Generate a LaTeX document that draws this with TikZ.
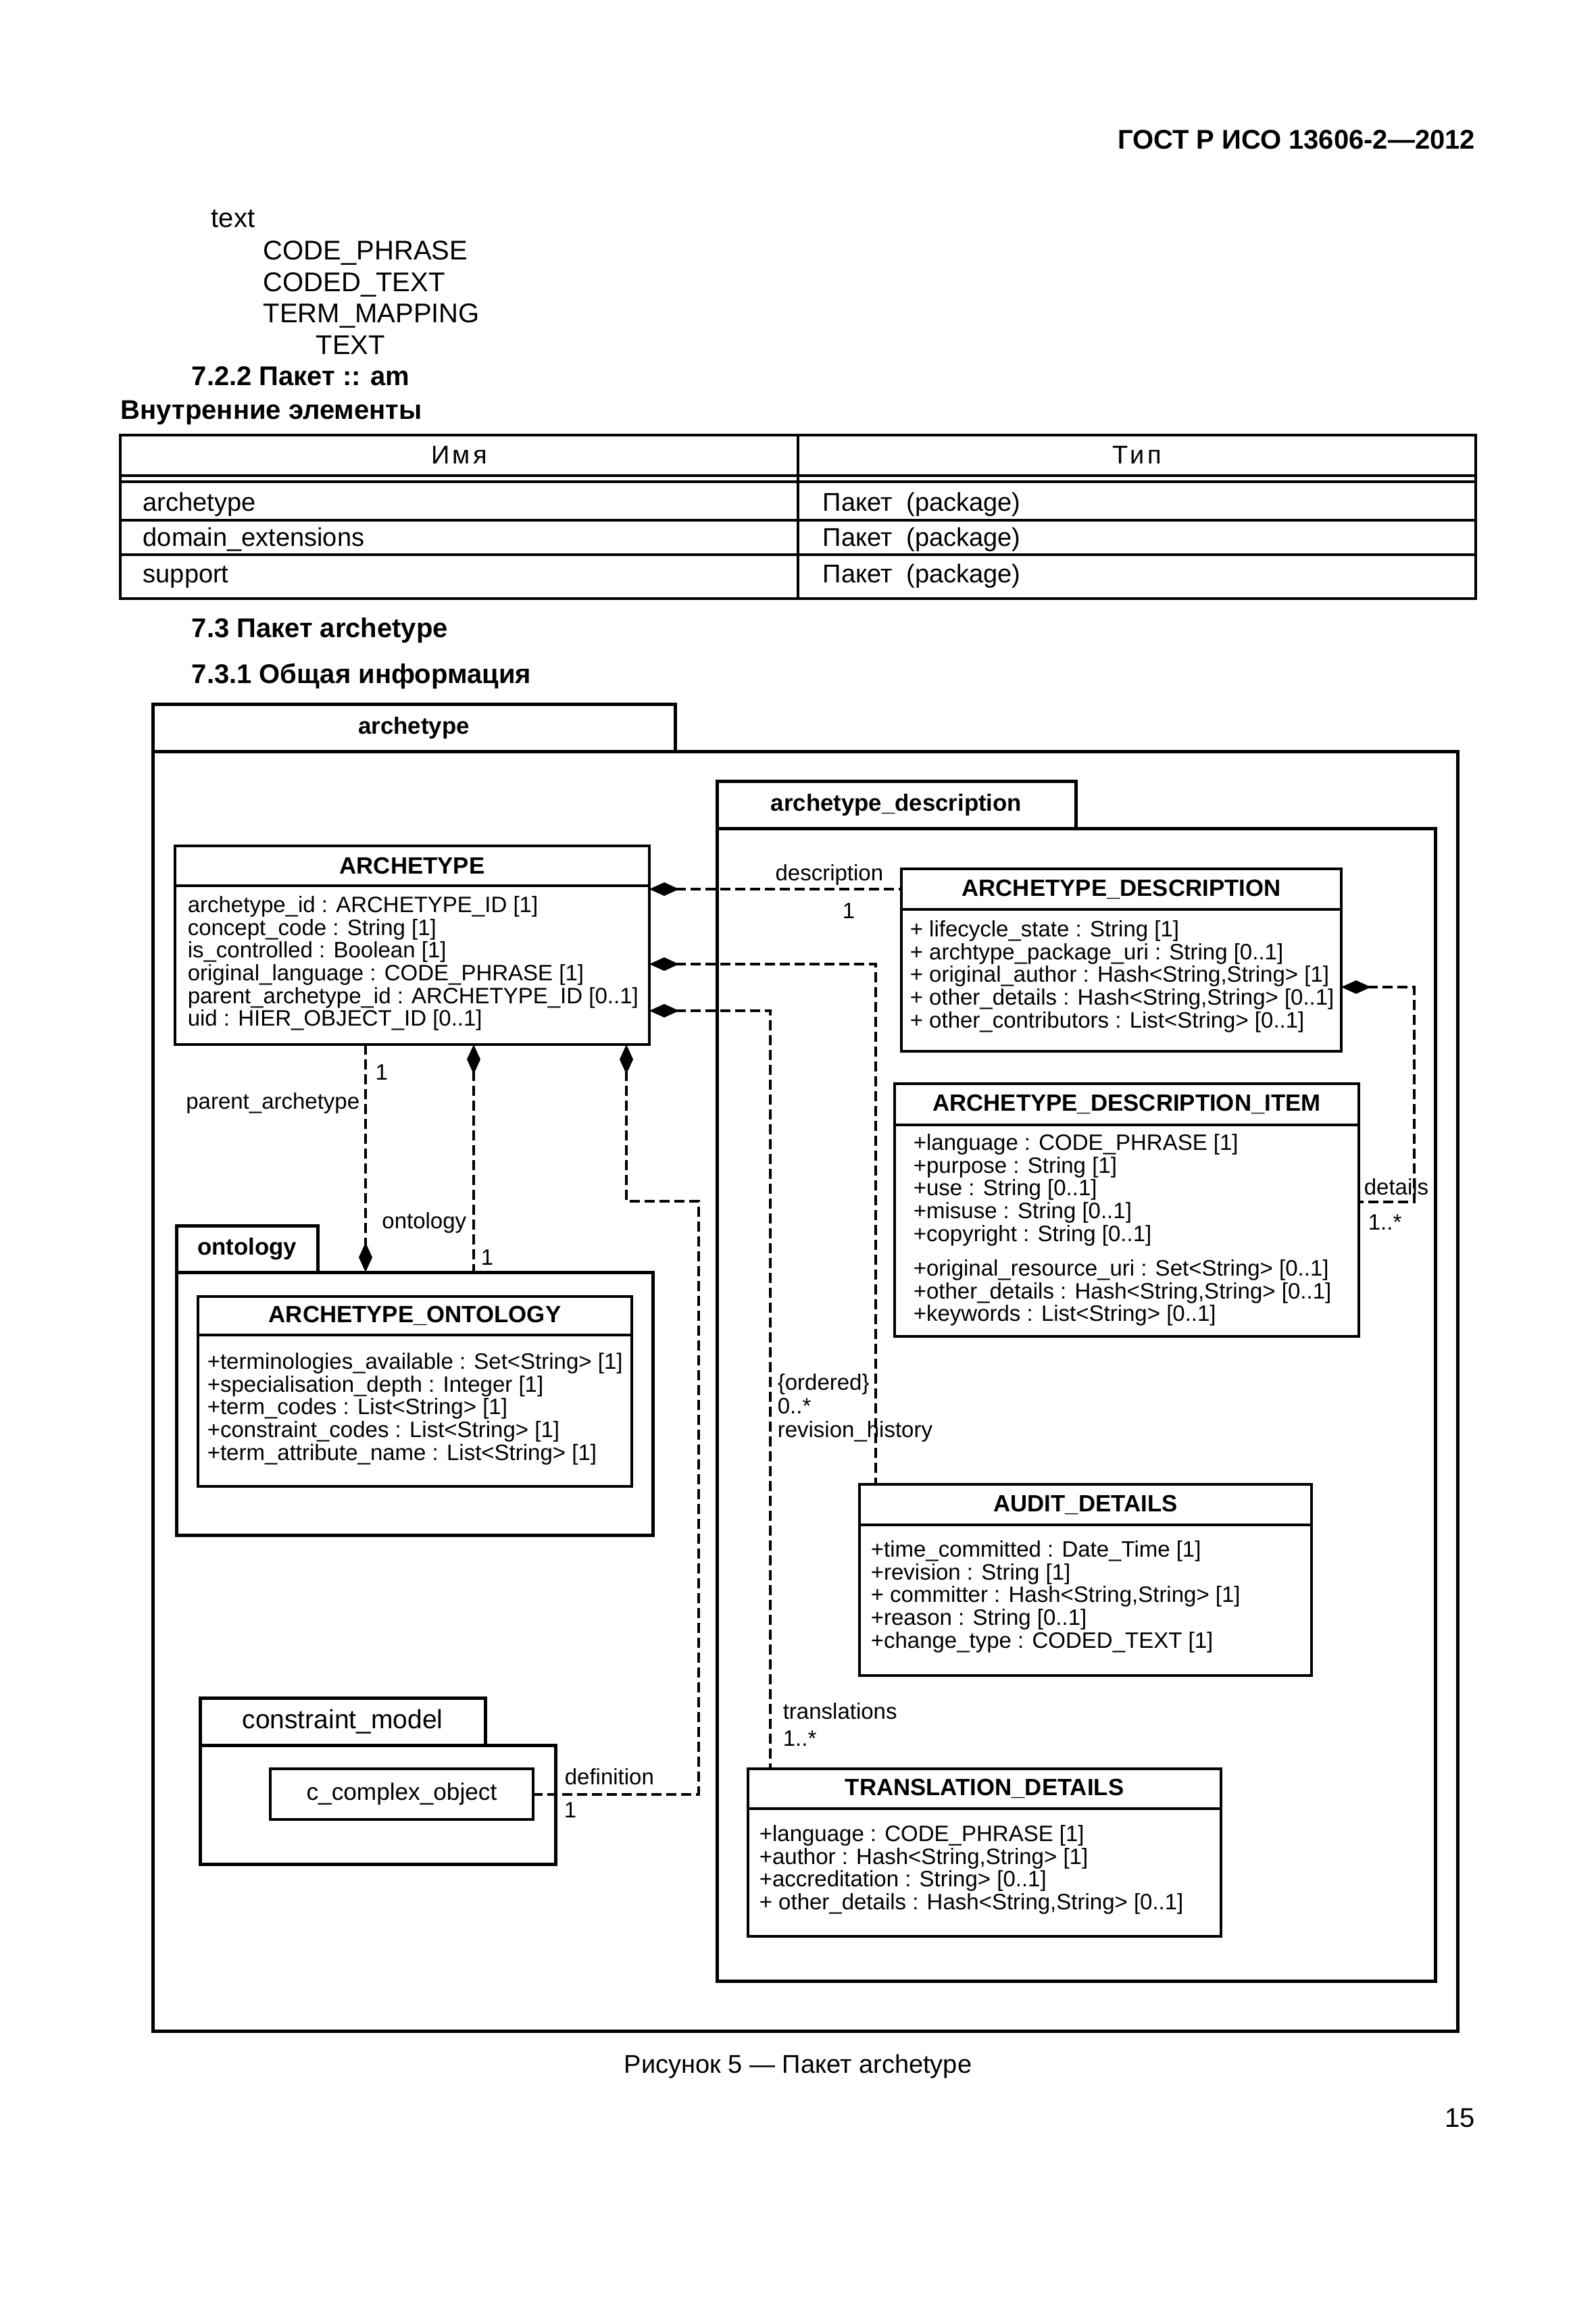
\documentclass[tikz,border=0pt]{standalone}
\usepackage{fontspec}
\setmainfont{Liberation Sans}
\usetikzlibrary{arrows.meta,positioning}

\begin{document}
\begin{tikzpicture}[x=1pt,y=-1pt,
  pagetext/.style={anchor=base west, inner sep=0pt, font=\fontsize{10}{12}\selectfont},
  pagehead/.style={pagetext, font=\bfseries\fontsize{10}{12}\selectfont},
  cell/.style={anchor=base west, inner sep=0pt, font=\fontsize{9.5}{11}\selectfont},
  pkgtab/.style={draw, line width=1.25pt, anchor=north west, inner sep=0pt, outer sep=0pt, font=\bfseries\fontsize{8.7}{10}\selectfont},
  pkgbody/.style={draw, line width=1.25pt, anchor=north west, inner sep=0pt, outer sep=0pt},
  clshead/.style={draw, line width=1.1pt, anchor=north west, inner sep=0pt, outer sep=0pt, font=\bfseries\fontsize{8.7}{10}\selectfont},
  clsbody/.style={draw, line width=1.1pt, anchor=north west, inner sep=0pt, outer sep=0pt},
  attrs/.style={anchor=north west, inner sep=0pt, align=left, font=\fontsize{8.25}{8.4}\selectfont},
  role/.style={inner sep=0pt, font=\fontsize{8.25}{10}\selectfont},
  assoc/.style={line width=1pt, dash pattern=on 3.75pt off 1.75pt},
  composite/.style={assoc, {Diamond[length=11pt,width=5pt]}-},
  partof/.style={assoc, -{Diamond[length=11pt,width=5pt]}}]
\fill[white] (0,0) rectangle (590.5,856.25);
\useasboundingbox (0,0) rectangle (590.5,856.25);

\node[pagehead, anchor=base east] (gost) at (546,55.25) {ГОСТ Р ИСО 13606-2—2012};
\node[pagetext] (t1) at (78,84.25) {text};
\node[pagetext] (t2) at (97.25,96) {CODE\_PHRASE};
\node[pagetext] (t3) at (97.25,107.9) {CODED\_TEXT};
\node[pagetext] (t4) at (97.25,119.3) {TERM\_MAPPING};
\node[pagetext] (t5) at (116.75,131) {TEXT};
\node[pagehead] (h1) at (70.75,142.6) {7.2.2 Пакет :: am};
\node[pagehead] (h2) at (44.5,155.2) {Внутренние элементы};

\draw[line width=0.8pt] (44.5,161) rectangle (546,221.5);
\draw[line width=0.8pt] (44.5,176) -- (546,176) (44.5,178.25) -- (546,178.25)
  (44.5,192.5) -- (546,192.5) (44.5,205.25) -- (546,205.25) (295.25,161) -- (295.25,221.5);
\node[cell, anchor=base] (colname) at (169.9,171.5) {\addfontfeature{LetterSpace=12}Имя};
\node[cell, anchor=base] (coltype) at (420.6,171.5) {\addfontfeature{LetterSpace=12}Тип};
\node[cell] (r1) at (52.75,189) {archetype};
\node[cell] (r2) at (52.75,202.2) {domain\_extensions};
\node[cell] (r3) at (52.75,215.7) {support};
\node[cell] (p1) at (304.25,189) {Пакет \ (package)};
\node[cell] (p2) at (304.25,202.2) {Пакет \ (package)};
\node[cell] (p3) at (304.25,215.7) {Пакет \ (package)};
\node[pagehead] (h3) at (70.75,235.9) {7.3 Пакет archetype};
\node[pagehead] (h4) at (70.75,252.9) {7.3.1 Общая информация};

\node[pkgtab, minimum width=193.25pt, minimum height=17.5pt] (archtab) at (56.5,260.5) {archetype};
\node[pkgbody, minimum width=482.75pt, minimum height=473.5pt] (archpkg) at (archtab.south west) {};
\node[pkgtab, minimum width=132.75pt, minimum height=17.5pt] (desctab) at (265.25,289) {archetype\_description};
\node[pkgbody, minimum width=265.75pt, minimum height=426.5pt] (descpkg) at (desctab.south west) {};

\node[clshead, minimum width=175.5pt, minimum height=14.75pt] (arch) at (64.75,313) {ARCHETYPE};
\node[clsbody, minimum width=175.5pt, minimum height=58.75pt] (archb) at (arch.south west) {};
\node[attrs] (archa) at ([shift={(4.5,3.75)}]archb.north west) {archetype\_id : ARCHETYPE\_ID [1]\\concept\_code : String [1]\\is\_controlled : Boolean [1]\\original\_language : CODE\_PHRASE [1]\\parent\_archetype\_id : ARCHETYPE\_ID [0..1]\\uid : HIER\_OBJECT\_ID [0..1]};

\node[clshead, minimum width=162.75pt, minimum height=15pt] (adesc) at (333.5,321.5) {ARCHETYPE\_DESCRIPTION};
\node[clsbody, minimum width=162.75pt, minimum height=52.5pt] (adescb) at (adesc.south west) {};
\node[attrs] (adesca) at ([shift={(3,4)}]adescb.north west) {+ lifecycle\_state : String [1]\\+ archtype\_package\_uri : String [0..1]\\+ original\_author : Hash<String,String> [1]\\+ other\_details : Hash<String,String> [0..1]\\+ other\_contributors : List<String> [0..1]};

\node[clshead, minimum width=171.75pt, minimum height=15.25pt] (aitem) at (331,401) {ARCHETYPE\_DESCRIPTION\_ITEM};
\node[clsbody, minimum width=171.75pt, minimum height=78.25pt] (aitemb) at (aitem.south west) {};
\node[attrs] (aitema) at ([shift={(6.75,3.25)}]aitemb.north west) {+language : CODE\_PHRASE [1]\\+purpose : String [1]\\+use : String [0..1]\\+misuse : String [0..1]\\+copyright : String [0..1]\\[4.5pt]+original\_resource\_uri : Set<String> [0..1]\\+other\_details : Hash<String,String> [0..1]\\+keywords : List<String> [0..1]};

\node[pkgtab, minimum width=52.25pt, minimum height=17.25pt] (onttab) at (65.25,453.5) {ontology};
\node[pkgbody, minimum width=176.25pt, minimum height=97.25pt] (ontpkg) at (onttab.south west) {};
\node[clshead, minimum width=160.5pt, minimum height=14.25pt] (aont) at (73.25,479.75) {ARCHETYPE\_ONTOLOGY};
\node[clsbody, minimum width=160.5pt, minimum height=56pt] (aontb) at (aont.south west) {};
\node[attrs] (aonta) at ([shift={(3.25,6.5)}]aontb.north west) {+terminologies\_available : Set<String> [1]\\+specialisation\_depth : Integer [1]\\+term\_codes : List<String> [1]\\+constraint\_codes : List<String> [1]\\+term\_attribute\_name : List<String> [1]};

\node[clshead, minimum width=167.25pt, minimum height=15pt] (audit) at (318,549.25) {AUDIT\_DETAILS};
\node[clsbody, minimum width=167.25pt, minimum height=55.75pt] (auditb) at (audit.south west) {};
\node[attrs] (audita) at ([shift={(4,5.75)}]auditb.north west) {+time\_committed : Date\_Time [1]\\+revision : String [1]\\+ committer : Hash<String,String> [1]\\+reason : String [0..1]\\+change\_type : CODED\_TEXT [1]};

\node[clshead, minimum width=175pt, minimum height=14.75pt] (trans) at (276.75,654.5) {TRANSLATION\_DETAILS};
\node[clsbody, minimum width=175pt, minimum height=47.25pt] (transb) at (trans.south west) {};
\node[attrs] (transa) at ([shift={(4,6)}]transb.north west) {+language : CODE\_PHRASE [1]\\+author : Hash<String,String> [1]\\+accreditation : String> [0..1]\\+ other\_details : Hash<String,String> [0..1]};

\node[pkgtab, minimum width=105.5pt, minimum height=17.5pt, font=\fontsize{9.75}{11}\selectfont] (cmtab) at (74,628.25) {constraint\_model};
\node[pkgbody, minimum width=131.5pt, minimum height=44pt] (cmpkg) at (cmtab.south west) {};
\node[clsbody, minimum width=97.25pt, minimum height=18.75pt, font=\fontsize{8.8}{10}\selectfont] (cco) at (100,654.5) {c\_complex\_object};

\draw[composite] (archb.east |- adesc.west) -- (adesc.west);
\draw[composite] ([shift={(0,29)}]archb.north east) -| ([shift={(6,0)}]audit.north west);
\draw[composite] ([shift={(0,46.25)}]archb.north east) -| ([shift={(8.25,0)}]trans.north west);
\draw[partof] ([shift={(70.5,0)}]archb.south west) -- ([shift={(70.5,0)}]archb.south west |- ontpkg.north);
\draw[composite] ([shift={(110.5,0)}]archb.south west) -- ([shift={(110.5,0)}]archb.south west |- ontpkg.north);
\coordinate (defbend) at (258.5,444.5);
\draw[composite] ([shift={(167,0)}]archb.south west) |- (defbend) |- (cco.east);
\draw[composite] ([shift={(0,28.75)}]adescb.north east) -- ++(27,0) |- ([shift={(0,28.5)}]aitemb.north east);

\node[role, anchor=base east] (ldesc) at (327,325.75) {description};
\node[role, anchor=base] (mdesc) at (314,339.75) {1};
\node[role, anchor=base] (mpar) at (141.2,399.5) {1};
\node[role, anchor=base east] (lpar) at (133.25,410.25) {parent\_archetype};
\node[role, anchor=base east] (lont) at (172.75,454.5) {ontology};
\node[role, anchor=base] (mont) at (180.25,468) {1};
\node[role, anchor=base west] (ldet) at (504.5,442) {details};
\node[role, anchor=base west] (mdet) at (506,455) {1..*};
\node[role, anchor=base west] (lord) at (287.5,514.25) {\{ordered\}};
\node[role, anchor=base west] (mrev) at (287.5,523) {0..*};
\node[role, anchor=base west] (lrev) at (287.5,531.75) {revision\_history};
\node[role, anchor=base west] (ltrans) at (289.5,636) {translations};
\node[role, anchor=base west] (mtrans) at (289.5,646) {1..*};
\node[role, anchor=base west] (ldef) at (208.75,660.25) {definition};
\node[role, anchor=base] (mdef) at (211,672.5) {1};

\node[cell, anchor=base] (caption) at (295.25,767) {Рисунок 5 — Пакет archetype};
\node[pagetext, anchor=base east] (pageno) at (546,787) {15};
\end{tikzpicture}
\end{document}
